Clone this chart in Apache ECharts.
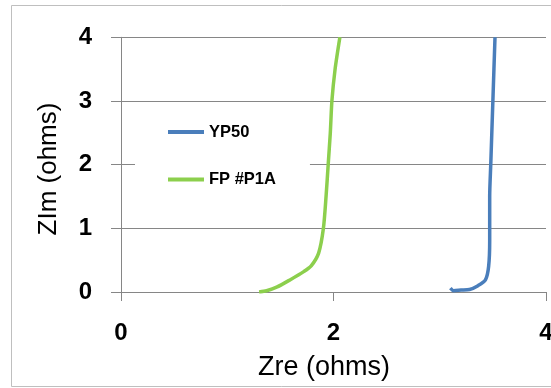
<!DOCTYPE html>
<html>
<head>
<meta charset="utf-8">
<script src="https://cdn.jsdelivr.net/npm/echarts@6/dist/echarts.min.js"></script>
<style>
  html, body { margin: 0; padding: 0; background: #fff; }
  #chart { width: 551px; height: 388px; }
</style>
</head>
<body>
<div id="chart"></div>
<script>
// Impedance curves: [Zre, ZIm] pairs in ohms
const seriesNames = ['YP50', 'FP #P1A'];
const yp50 = [
  [3.10, 0.06], [3.13, 0.02], [3.20, 0.03], [3.28, 0.04], [3.36, 0.10],
  [3.43, 0.19], [3.46, 0.40], [3.47, 0.80], [3.47, 1.50], [3.48, 2.00],
  [3.49, 2.50], [3.50, 3.00], [3.51, 3.50], [3.52, 4.00]
];
const fpP1A = [
  [1.30, 0.00], [1.37, 0.02], [1.47, 0.08], [1.59, 0.19], [1.72, 0.32],
  [1.79, 0.41], [1.86, 0.61], [1.905, 1.00], [1.93, 1.50], [1.95, 2.00],
  [1.97, 2.50], [1.985, 3.00], [2.015, 3.50], [2.06, 4.00]
];
const xTicks = { min: 0, max: 4, step: 2 };
const yTicks = { min: 0, max: 4, step: 1 };

const chart = echarts.init(document.getElementById('chart'));
const tickFont = { color: '#000', fontSize: 24, fontWeight: 'bold', fontFamily: 'Liberation Sans' };

chart.setOption({
  animation: false,
  backgroundColor: '#fff',
  grid: { left: 121, right: 5, top: 37.3, bottom: 96, containLabel: false, outerBoundsMode: 'none' },
  graphic: [
    { type: 'rect', shape: { x: 11.5, y: 5.5, width: 600, height: 381 },
      style: { fill: 'none', stroke: '#BFBFBF', lineWidth: 1 }, z: -10 },
    { type: 'text', x: 324, y: 368,
      style: { text: 'Zre (ohms)', fill: '#000', font: '27px "Liberation Sans"', textAlign: 'center', textVerticalAlign: 'middle' } },
    { type: 'text', x: 49, y: 169, rotation: Math.PI / 2,
      style: { text: 'ZIm (ohms)', fill: '#000', font: '26px "Liberation Sans"', textAlign: 'center', textVerticalAlign: 'middle' } }
  ],
  legend: {
    orient: 'vertical',
    left: 135, top: 110,
    padding: [12, 34, 12, 33],
    backgroundColor: '#fff',
    itemGap: 27.5,
    itemWidth: 36, itemHeight: 4,
    icon: 'rect',
    data: seriesNames,
    textStyle: { color: '#000', fontSize: 16.5, fontWeight: 'bold', fontFamily: 'Liberation Sans', lineHeight: 20 }
  },
  xAxis: {
    type: 'value', min: xTicks.min, max: xTicks.max, interval: xTicks.step,
    axisLine: { lineStyle: { color: '#868686', width: 1 } },
    axisTick: { show: true, length: 9, lineStyle: { color: '#868686' } },
    splitLine: { show: false },
    axisLabel: Object.assign({ margin: 29 }, tickFont)
  },
  yAxis: {
    type: 'value', min: yTicks.min, max: yTicks.max, interval: yTicks.step,
    axisLine: { show: true, lineStyle: { color: '#868686', width: 1 } },
    axisTick: { show: true, length: 10, lineStyle: { color: '#868686' } },
    splitLine: { show: true, lineStyle: { color: '#868686', width: 1 } },
    axisLabel: Object.assign({ margin: 29 }, tickFont)
  },
  series: [
    { name: seriesNames[0], type: 'line', data: yp50, showSymbol: false, smooth: 0.25,
      itemStyle: { color: '#4A7EBB' }, lineStyle: { color: '#4A7EBB', width: 3.5 } },
    { name: seriesNames[1], type: 'line', data: fpP1A, showSymbol: false, smooth: 0.25,
      itemStyle: { color: '#8CCF4D' }, lineStyle: { color: '#8CCF4D', width: 3.5 } }
  ]
});
</script>
</body>
</html>
